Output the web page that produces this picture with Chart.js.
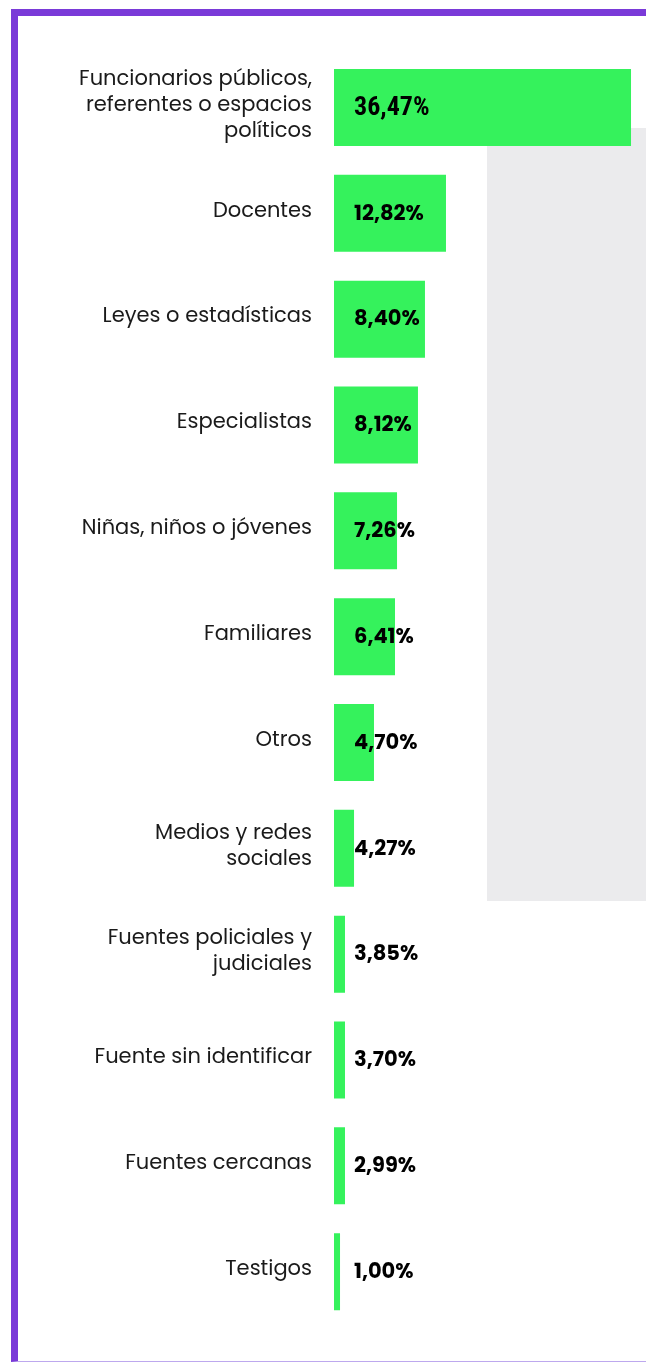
<!DOCTYPE html>
<html lang="es">
<head>
<meta charset="utf-8">
<script src="https://cdn.jsdelivr.net/npm/chart.js@4.4.1/dist/chart.umd.min.js"></script>
<style>
  html, body { margin:0; padding:0; background:#fff; }
  body { width:646px; height:1362px; position:relative; overflow:hidden; }
  .marco {
    position:absolute; left:11px; top:9px; width:700px; height:1345px;
    border-left:7px solid #7a3ad8; border-top:7px solid #7a3ad8;
    border-bottom:1px solid #bda8ee;
  }
  .gris { position:absolute; left:487px; top:128px; width:159px; height:773px; background:#ebebed; }
  .lienzo { position:absolute; left:18px; top:16px; width:628px; height:1344px; }
</style>
</head>
<body>
<div class="marco"></div>
<div class="gris"></div>
<div class="lienzo"><canvas id="grafico"></canvas></div>
<script>
// Categorías (las etiquetas largas van partidas en líneas)
const CATEGORIAS = [
  ["Funcionarios públicos,", "referentes o espacios", "políticos"],
  "Docentes",
  "Leyes o estadísticas",
  "Especialistas",
  "Niñas, niños o jóvenes",
  "Familiares",
  "Otros",
  ["Medios y redes", "sociales"],
  ["Fuentes policiales y", "judiciales"],
  "Fuente sin identificar",
  "Fuentes cercanas",
  "Testigos"
];

// Texto que se muestra sobre cada barra
const PORCENTAJES = ["36,47%","12,82%","8,40%","8,12%","7,26%","6,41%","4,70%","4,27%","3,85%","3,70%","2,99%","1,00%"];

// Largo de cada barra tal como se ve en la imagen (en puntos %)
const LARGOS = [36.47, 13.75, 11.17, 10.31, 7.74, 7.49, 4.91, 2.46, 1.35, 1.35, 1.35, 0.74];

const VERDE = "#35f25c";

// Etiquetas de valor a la derecha del inicio de la barra
const etiquetasValor = {
  id: "etiquetasValor",
  afterDatasetsDraw(chart){
    const {ctx} = chart;
    const meta = chart.getDatasetMeta(0);
    ctx.save();
    ctx.fillStyle = "#000";
    ctx.textBaseline = "middle";
    ctx.textAlign = "left";
    meta.data.forEach((bar, i)=>{
      ctx.font = i === 0
        ? "bold 26px 'Roboto Condensed', 'Liberation Sans Narrow', Roboto, sans-serif"
        : "bold 21px Poppins, 'Open Sans', sans-serif";
      ctx.fillText(PORCENTAJES[i], bar.base + 20, bar.y + 1);
    });
    ctx.restore();
  }
};

new Chart(document.getElementById("grafico"), {
  type: "bar",
  data: {
    labels: CATEGORIAS,
    datasets: [{
      data: LARGOS,
      backgroundColor: VERDE,
      borderWidth: 0,
      barPercentage: 0.728,
      categoryPercentage: 1
    }]
  },
  options: {
    indexAxis: "y",
    responsive: true,
    maintainAspectRatio: false,
    animation: false,
    layout: { padding: { top: 38.6, bottom: 35.4, left: 0, right: 0 } },
    scales: {
      x: { display: false, min: 0, max: 38.31 },
      y: {
        afterFit: s => { s.width = 316; s.paddingTop = 0; s.paddingBottom = 0; },
        grid: { display: false },
        border: { display: false },
        ticks: {
          color: "#1a1a1a",
          padding: 14,
          labelOffset: -2,
          font: { family: "Poppins, 'Open Sans', sans-serif", size: 21, lineHeight: 1.24 }
        }
      }
    },
    plugins: { legend: { display: false }, tooltip: { enabled: false } }
  },
  plugins: [etiquetasValor]
});
</script>
</body>
</html>
